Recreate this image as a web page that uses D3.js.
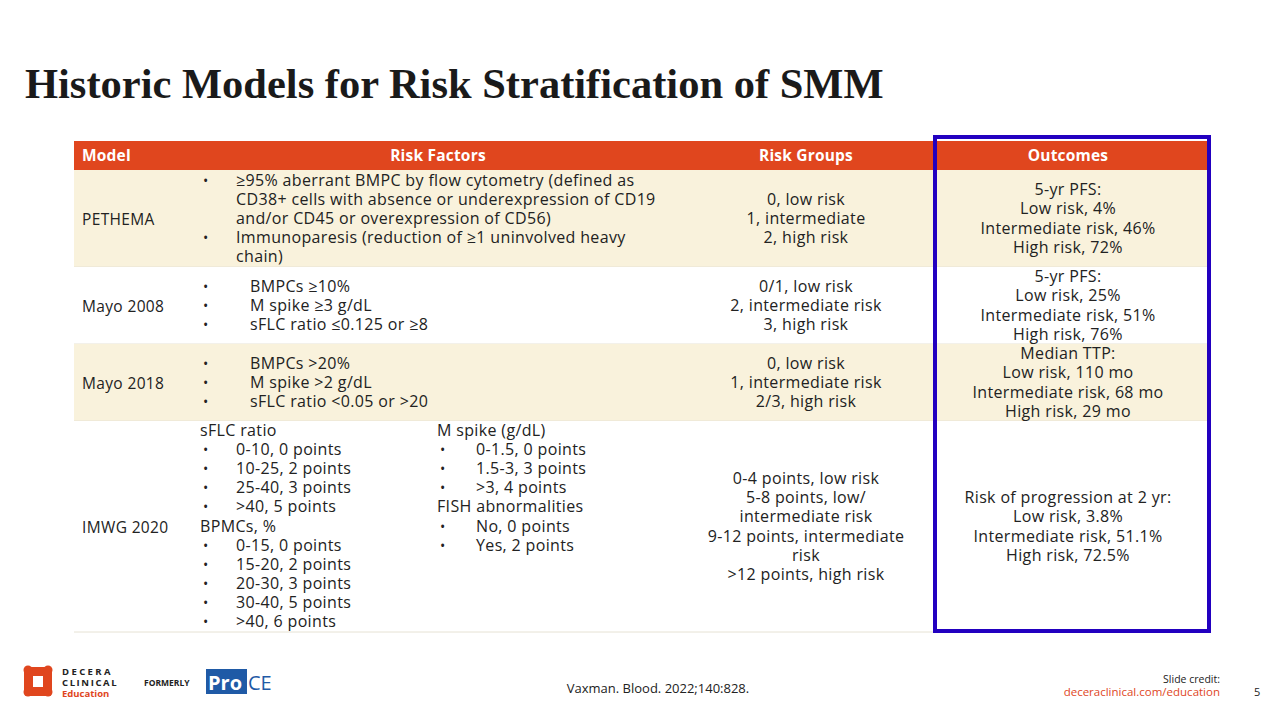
<!DOCTYPE html>
<html><head><meta charset="utf-8">
<script src="https://cdn.jsdelivr.net/npm/d3@7"></script>
<style>body{margin:0;background:#fff}svg{display:block}</style>
</head><body>
<script>
// table content
const headers = ["Model", "Risk Factors", "Risk Groups", "Outcomes"];
const models = ["PETHEMA", "Mayo 2008", "Mayo 2018", "IMWG 2020"];
const riskFactors = [
  [["b", "≥95% aberrant BMPC by flow cytometry (defined as"], ["t", "CD38+ cells with absence or underexpression of CD19"], ["t", "and/or CD45 or overexpression of CD56)"], ["b", "Immunoparesis (reduction of ≥1 uninvolved heavy"], ["t", "chain)"]],
  [["b2", "BMPCs ≥10%"], ["b2", "M spike ≥3 g/dL"], ["b2", "sFLC ratio ≤0.125 or ≥8"]],
  [["b2", "BMPCs >20%"], ["b2", "M spike >2 g/dL"], ["b2", "sFLC ratio <0.05 or >20"]],
  null
];
const imwgLeft = [["h", "sFLC ratio"], ["b", "0-10, 0 points"], ["b", "10-25, 2 points"], ["b", "25-40, 3 points"], ["b", ">40, 5 points"], ["h", "BPMCs, %"], ["b", "0-15, 0 points"], ["b", "15-20, 2 points"], ["b", "20-30, 3 points"], ["b", "30-40, 5 points"], ["b", ">40, 6 points"]];
const imwgRight = [["h", "M spike (g/dL)"], ["b", "0-1.5, 0 points"], ["b", "1.5-3, 3 points"], ["b", ">3, 4 points"], ["h", "FISH abnormalities"], ["b", "No, 0 points"], ["b", "Yes, 2 points"]];
const riskGroups = [
  ["0, low risk", "1, intermediate", "2, high risk"],
  ["0/1, low risk", "2, intermediate risk", "3, high risk"],
  ["0, low risk", "1, intermediate risk", "2/3, high risk"],
  ["0-4 points, low risk", "5-8 points, low/", "intermediate risk", "9-12 points, intermediate", "risk", ">12 points, high risk"]
];
const outcomes = [
  ["5-yr PFS:", "Low risk, 4%", "Intermediate risk, 46%", "High risk, 72%"],
  ["5-yr PFS:", "Low risk, 25%", "Intermediate risk, 51%", "High risk, 76%"],
  ["Median TTP:", "Low risk, 110 mo", "Intermediate risk, 68 mo", "High risk, 29 mo"],
  ["Risk of progression at 2 yr:", "Low risk, 3.8%", "Intermediate risk, 51.1%", "High risk, 72.5%"]
];
const rowBounds = [141, 170, 267, 344, 421, 632];
const colBounds = [74, 195, 700, 935, 1207];

const W = 1280, H = 720, LH = 19.1;
const font = "'Open Sans', sans-serif";
const FS = "16px", LS = "0.35px";
const svg = d3.select("body").append("svg").attr("width", W).attr("height", H)
  .style("font-family", font).style("fill", "#222");

svg.append("text").attr("x", 25).attr("y", 98)
  .style("font-family", "'Liberation Serif', serif").style("font-weight", "bold")
  .style("font-size", "42.5px").style("fill", "#1a1a1a")
  .text("Historic Models for Risk Stratification of SMM");

// header + row backgrounds
svg.append("rect").attr("x", colBounds[0]).attr("y", rowBounds[0]).attr("width", colBounds[4] - colBounds[0])
  .attr("height", rowBounds[1] - rowBounds[0]).attr("fill", "#e0461e");
const hx = [82, 438, 806, 1068];
headers.forEach((h, i) => {
  svg.append("text").attr("x", hx[i]).attr("y", 161).attr("text-anchor", i ? "middle" : "start")
    .style("fill", "#fff").style("font-weight", "bold").style("font-size", "15.5px").style("letter-spacing", "0.2px").text(h);
});
function txt(x, y, t, anchor) {
  return svg.append("text").attr("x", x).attr("y", y).attr("text-anchor", anchor || "start")
    .style("font-size", FS).style("letter-spacing", LS).text(t);
}
models.forEach((m, r) => {
  const y0 = rowBounds[r + 1], y1 = rowBounds[r + 2];
  svg.append("rect").attr("x", colBounds[0]).attr("y", y0).attr("width", colBounds[4] - colBounds[0])
    .attr("height", y1 - y0).attr("fill", r % 2 ? "#fff" : "#f9f2dc");
  svg.append("line").attr("x1", colBounds[0]).attr("x2", colBounds[4]).attr("y1", y1).attr("y2", y1)
    .attr("stroke", "#e6e2d4").attr("stroke-width", 1);
  const mid = (y0 + y1) / 2;
  txt(82, mid + 6, m).style("font-size", "15.5px");

  function centered(lines, cx) {
    const top = mid - lines.length * LH / 2;
    lines.forEach((t, i) => txt(cx, top + i * LH + 15, t, "middle"));
  }
  centered(riskGroups[r], 806);
  centered(outcomes[r], 1068);

  function bullets(lines, x, top, tx) {
    lines.forEach((l, i) => {
      const y = top + i * LH + 15;
      if (l[0] === "h") txt(x - 3, y, l[1]);
      else {
        if (l[0] !== "t") txt(x, y, "•").style("font-size", "14px");
        txt(l[0] === "b2" ? tx + 14 : tx, y, l[1]);
      }
    });
  }
  if (riskFactors[r]) {
    const lines = riskFactors[r];
    bullets(lines, 203, mid - lines.length * LH / 2, 236);
  } else {
    bullets(imwgLeft, 203, y0, 236);
    bullets(imwgRight, 440, y0, 476);
  }
});

// highlight box
svg.append("rect").attr("x", 935).attr("y", 137).attr("width", 274).attr("height", 494)
  .attr("fill", "none").attr("stroke", "#2200c0").attr("stroke-width", 4);

// footer
svg.append("text").attr("x", 658).attr("y", 693).attr("text-anchor", "middle").style("font-size", "13px").text("Vaxman. Blood. 2022;140:828.");
svg.append("text").attr("x", 1220).attr("y", 683).attr("text-anchor", "end").style("font-size", "10.5px").text("Slide credit:");
svg.append("text").attr("x", 1220).attr("y", 696).attr("text-anchor", "end").style("font-size", "11.5px").style("fill", "#e0461e").text("deceraclinical.com/education");
svg.append("text").attr("x", 1254).attr("y", 696).style("font-size", "11px").text("5");

// logo
const lg = svg.append("g").attr("fill", "#e0461e");
lg.append("rect").attr("x", 24).attr("y", 667).attr("width", 28).attr("height", 29).attr("rx", 4);
[[28, 670], [48, 670], [28, 692], [48, 692]].forEach(c => lg.append("circle").attr("cx", c[0]).attr("cy", c[1]).attr("r", 4.5));
svg.append("rect").attr("x", 33).attr("y", 676).attr("width", 10).attr("height", 11).attr("fill", "#fff");
svg.append("text").attr("x", 62).attr("y", 675).style("font-size", "9.5px").style("font-weight", "bold").style("letter-spacing", "2.4px").text("DECERA");
svg.append("text").attr("x", 62).attr("y", 686).style("font-size", "9.5px").style("font-weight", "bold").style("letter-spacing", "1.6px").text("CLINICAL");
svg.append("text").attr("x", 62).attr("y", 697).style("font-size", "9.5px").style("font-weight", "bold").style("fill", "#e0461e").text("Education");
svg.append("text").attr("x", 144).attr("y", 686).style("font-size", "8.5px").style("font-weight", "bold").text("FORMERLY");
svg.append("rect").attr("x", 206).attr("y", 669).attr("width", 41).attr("height", 25).attr("fill", "#1f5aa6");
svg.append("text").attr("x", 208).attr("y", 690).style("font-size", "20px").style("font-weight", "bold").style("fill", "#fff").text("Pro");
svg.append("text").attr("x", 248).attr("y", 690).style("font-size", "20px").style("fill", "#1f5aa6").text("CE");
</script>
</body></html>
